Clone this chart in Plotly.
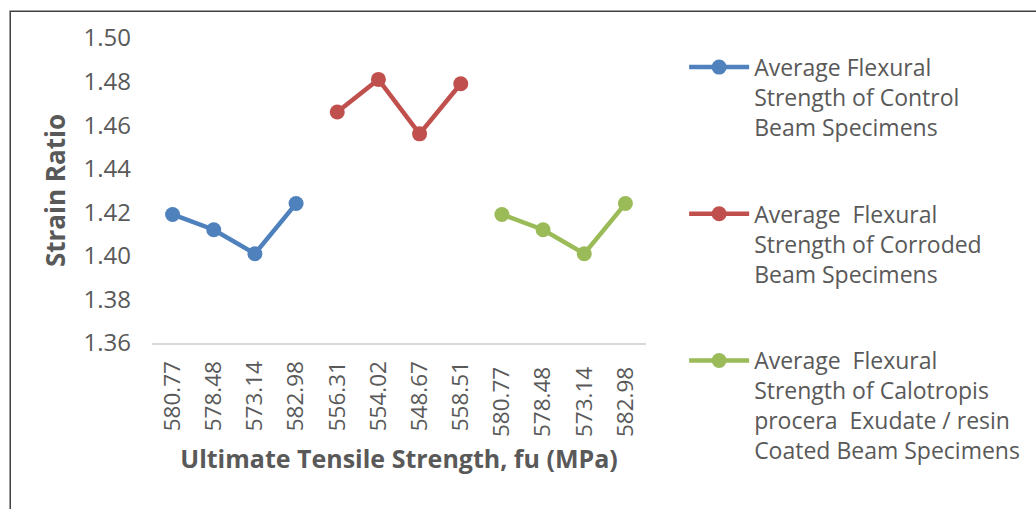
import plotly.graph_objects as go

# Category labels on the x axis (ultimate tensile strength, MPa)
categories = ["580.77", "578.48", "573.14", "582.98",
              "556.31", "554.02", "548.67", "558.51",
              "580.77 ", "578.48 ", "573.14 ", "582.98 "]

control_x = categories[0:4]
control_y = [1.419, 1.412, 1.401, 1.424]

corroded_x = categories[4:8]
corroded_y = [1.466, 1.481, 1.456, 1.479]

coated_x = categories[8:12]
coated_y = [1.419, 1.412, 1.401, 1.424]

names = [
    "Average Flexural<br>Strength of Control<br>Beam Specimens",
    "Average  Flexural<br>Strength of Corroded<br>Beam Specimens",
    "Average  Flexural<br>Strength of Calotropis<br>procera  Exudate / resin<br>Coated Beam Specimens",
]
colors = ["#4F81BD", "#C0504D", "#9BBB59"]

FONT = "Open Sans, sans-serif"
TEXT = "#595959"

fig = go.Figure()
for i, (xs, ys) in enumerate([(control_x, control_y),
                              (corroded_x, corroded_y),
                              (coated_x, coated_y)]):
    fig.add_trace(go.Scatter(
        x=xs, y=ys, name=names[i], mode="lines+markers",
        legendgroup=f"g{i}",
        line=dict(color=colors[i], width=4.5),
        marker=dict(color=colors[i], size=15),
    ))

# Chart frame
fig.add_shape(type="path", xref="paper", yref="paper",
              path="M -0.287,-0.6 L -0.287,1.088 L 1.9,1.088",
              line=dict(color="#404040", width=1.5))

fig.update_layout(
    width=1036, height=509,
    margin=dict(l=152, r=389, t=38, b=166),
    paper_bgcolor="white", plot_bgcolor="white",
    font=dict(family=FONT, color=TEXT, size=22),
    showlegend=True,
    legend=dict(
        x=1.075, xanchor="left", y=0.975, yanchor="top",
        font=dict(family=FONT, size=23, color=TEXT),
        itemwidth=60, valign="top", tracegroupgap=54,
        maxheight=500,
        bgcolor="rgba(0,0,0,0)",
    ),
    xaxis=dict(
        type="category", categoryorder="array", categoryarray=categories,
        tickangle=-90, tickfont=dict(size=22.5, color=TEXT),
        showgrid=False, showline=True, linecolor="#D9D9D9", linewidth=2,
        ticks="", ticklabelstandoff=7, zeroline=False,
        title=dict(text="<b>Ultimate Tensile Strength, fu (MPa)</b>",
                   font=dict(size=25, color=TEXT), standoff=14),
        range=[-0.5, 11.5], fixedrange=True,
    ),
    yaxis=dict(
        range=[1.36, 1.50], dtick=0.02, tickformat=".2f",
        tickfont=dict(size=24, color=TEXT),
        showgrid=False, showline=False, zeroline=False, ticks="",
        ticklabelstandoff=20,
        title=dict(text="<b>Strain Ratio</b>",
                   font=dict(size=26, color=TEXT), standoff=10),
    ),
)

fig.write_html("out.html")
